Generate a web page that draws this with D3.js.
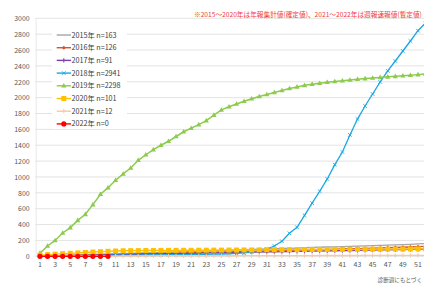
<!DOCTYPE html>
<html>
<head>
<meta charset="utf-8">
<script src="https://cdn.jsdelivr.net/npm/d3@7"></script>
<style>
  body { margin: 0; background: #fff; }
  svg { display: block; }
  text { font-family: "Noto Sans CJK JP", "Noto Sans", sans-serif; }
</style>
</head>
<body>
<div id="chart"></div>
<script>
var WEEKS = d3.range(1, 53);
var XTICKS = d3.range(1, 53, 2);
var YTICKS = d3.range(0, 3001, 200);

var S2015 = [2,5,8,12,15,17,21,24,26,30,33,35,38,42,45,47,50,54,57,59,62,66,69,71,74,78,81,83,86,90,93,96,99,101,104,108,111,114,117,120,123,126,129,132,135,138,141,145,148,151,156,161];
var S2016 = [1,3,5,8,10,12,14,16,19,21,23,25,27,30,32,34,36,38,41,43,45,48,50,52,54,57,59,61,64,66,68,71,73,75,78,80,82,85,87,90,92,95,97,100,103,105,108,111,114,117,121,125];
var S2017 = [1,2,4,6,8,10,12,14,16,18,20,22,24,26,28,30,32,33,35,37,38,40,42,43,45,47,48,50,52,53,55,57,58,60,62,63,65,67,68,70,72,73,75,77,79,80,82,84,86,88,89,91];
var S2018 = [2,3,4,5,6,8,9,10,11,12,13,14,15,16,17,18,19,20,21,22,23,24,25,27,29,32,36,42,52,68,92,130,190,290,366,517,670,820,975,1155,1315,1530,1730,1895,2046,2198,2337,2462,2588,2714,2844,2941];
var S2019 = [40,130,200,294,361,453,529,651,782,865,958,1038,1113,1210,1280,1345,1400,1450,1510,1570,1615,1660,1710,1780,1845,1885,1920,1955,1985,2015,2040,2065,2090,2115,2135,2155,2170,2182,2193,2203,2213,2222,2231,2240,2248,2255,2262,2268,2275,2282,2290,2298];
var S2020 = [15,22,28,33,38,43,48,54,58,63,67,70,71,72,73,74,74,75,75,76,76,77,77,78,78,79,79,80,80,81,82,82,83,84,84,85,85,86,86,87,87,88,88,89,89,90,90,91,91,92,93,95];
var S2021 = [0,1,1,1,2,2,2,3,3,3,3,4,4,4,4,5,5,5,5,6,6,6,6,7,7,7,7,8,8,8,8,8,9,9,9,9,9,10,10,10,10,10,10,11,11,11,11,11,12,12,12,12];
var S2022 = [0,0,0,0,0,0,0,0,0,0];

var SERIES_NAMES = ['2015年 n=163', '2016年 n=126', '2017年 n=91', '2018年 n=2941', '2019年 n=2298', '2020年 n=101', '2021年 n=12', '2022年 n=0'];
var SERIES_VALUES = [S2015, S2016, S2017, S2018, S2019, S2020, S2021, S2022];
var SERIES_COLORS = ['#a5a5a5', '#d8532b', '#7a3fb0', '#1aa7e4', '#8ccb4c', '#ffc000', '#f9c9a6', '#ff0000'];
var SERIES_MARKERS = ['none', 'diamond', 'plus', 'cross', 'triangle', 'square', 'plus', 'circle'];

var NOTE = '※2015～2020年は年報集計値(確定値)、2021～2022年は週報速報値(暫定値)';
var FOOT = '診断週にもとづく';

var SVGWIDTH = 424;
var SVGHEIGHT = 284;
var PLOT = {'left': 36.2, 'top': 18.3, 'bottom': 256.3};
var WEEKSTEP = 7.56;

var svg = d3.select('#chart').append('svg')
  .attr('width', SVGWIDTH)
  .attr('height', SVGHEIGHT);

var x = d3.scaleBand()
  .domain(WEEKS)
  .range([PLOT['left'], PLOT['left'] + WEEKS.length * WEEKSTEP])
  .paddingInner(0).paddingOuter(0);
var y = d3.scaleLinear().domain([0, 3000]).range([PLOT['bottom'], PLOT['top']]);

function cx(w) { return x(w) + x.bandwidth() / 2; }

function drawMarker(g, sType, sColor, fX, fY)
{
  if (sType === 'circle') {
    g.append('circle').attr('cx', fX).attr('cy', fY).attr('r', 2.6).attr('fill', sColor);
  } else if (sType === 'square') {
    g.append('rect').attr('x', fX - 2.5).attr('y', fY - 2.5).attr('width', 5).attr('height', 5).attr('fill', sColor);
  } else if (sType === 'triangle') {
    g.append('path').attr('d', 'M' + fX + ',' + (fY - 2.8) + 'L' + (fX + 2.6) + ',' + (fY + 1.8) + 'L' + (fX - 2.6) + ',' + (fY + 1.8) + 'Z').attr('fill', sColor);
  } else if (sType === 'diamond') {
    g.append('path').attr('d', 'M' + fX + ',' + (fY - 2) + 'L' + (fX + 2) + ',' + fY + 'L' + fX + ',' + (fY + 2) + 'L' + (fX - 2) + ',' + fY + 'Z').attr('fill', sColor);
  } else if (sType === 'plus') {
    g.append('path').attr('d', 'M' + (fX - 2.2) + ',' + fY + 'H' + (fX + 2.2) + 'M' + fX + ',' + (fY - 2.2) + 'V' + (fY + 2.2))
      .attr('stroke', sColor).attr('stroke-width', 1).attr('fill', 'none');
  } else if (sType === 'cross') {
    g.append('path').attr('d', 'M' + (fX - 1.8) + ',' + (fY - 1.8) + 'L' + (fX + 1.8) + ',' + (fY + 1.8) + 'M' + (fX + 1.8) + ',' + (fY - 1.8) + 'L' + (fX - 1.8) + ',' + (fY + 1.8))
      .attr('stroke', sColor).attr('stroke-width', 0.9).attr('fill', 'none');
  }
}

function drawGrid()
{
  var g = svg.append('g').classed('grid', true);
  g.selectAll('line').data(YTICKS).enter().append('line')
    .attr('x1', PLOT['left'] - 1).attr('x2', SVGWIDTH)
    .attr('y1', function(d) { return y(d); })
    .attr('y2', function(d) { return y(d); })
    .attr('stroke', '#dcdcdc').attr('stroke-width', 0.8);
  g.append('line')
    .attr('x1', PLOT['left']).attr('x2', PLOT['left'])
    .attr('y1', PLOT['top']).attr('y2', PLOT['bottom'])
    .attr('stroke', '#e4e4e4').attr('stroke-width', 0.8);
}

function drawAxes()
{
  var yAxis = d3.axisLeft(y).tickValues(YTICKS).tickFormat(d3.format('d')).tickSize(0).tickPadding(0);
  var gy = svg.append('g').attr('transform', 'translate(' + (PLOT['left'] - 6.5) + ',0)').call(yAxis);
  gy.select('.domain').remove();
  gy.selectAll('text').attr('fill', '#595959').style('font-size', '7px');

  var xAxis = d3.axisBottom(x).tickValues(XTICKS).tickSize(0).tickPadding(0);
  var gx = svg.append('g').attr('transform', 'translate(0,' + (PLOT['bottom'] + 6) + ')').call(xAxis);
  gx.select('.domain').remove();
  gx.selectAll('text').attr('fill', '#595959').style('font-size', '7px');
}

function drawSeries()
{
  var gAll = svg.append('g').classed('series', true);
  for (var i = 0; i < SERIES_VALUES.length; i++)
  {
    var aVals = SERIES_VALUES[i];
    var sColor = SERIES_COLORS[i];
    var g = gAll.append('g');
    var line = d3.line()
      .x(function(d, j) { return cx(WEEKS[j]); })
      .y(function(d) { return y(d); });
    g.append('path').datum(aVals)
      .attr('d', line)
      .attr('fill', 'none')
      .attr('stroke', sColor)
      .attr('stroke-width', (i === 4) ? 1.5 : 1.3);
    for (var j = 0; j < aVals.length; j++)
    {
      drawMarker(g, SERIES_MARKERS[i], sColor, cx(WEEKS[j]), y(aVals[j]));
    }
  }
}

function drawLegend()
{
  var g = svg.append('g').classed('legend', true);
  var iTop = 35;
  var fStep = 12.7;
  g.append('rect').attr('x', 52).attr('y', 27).attr('width', 75).attr('height', 102).attr('fill', '#fff');
  for (var i = 0; i < SERIES_NAMES.length; i++)
  {
    var fY = iTop + i * fStep;
    g.append('line').attr('x1', 56.7).attr('x2', 71).attr('y1', fY).attr('y2', fY)
      .attr('stroke', SERIES_COLORS[i]).attr('stroke-width', 1.4);
    drawMarker(g, SERIES_MARKERS[i], SERIES_COLORS[i], 63.8, fY);
    g.append('text').attr('x', 71.5).attr('y', fY + 2.5)
      .attr('fill', '#404040').style('font-size', '7.2px')
      .text(SERIES_NAMES[i]);
  }
}

function drawNotes()
{
  var tNote = svg.append('text').attr('x', 194).attr('y', 16.8)
    .attr('fill', '#f23a3a').style('font-size', '6.8px')
    .text(NOTE);
  //shrink so it stays inside the picture
  var fLen = tNote.node().getComputedTextLength();
  if (194 + fLen > SVGWIDTH - 2) {
    tNote.style('font-size', (6.8 * (SVGWIDTH - 2 - 194) / fLen) + 'px');
  }
  svg.append('text').attr('x', SVGWIDTH - 2).attr('y', 281.5)
    .attr('text-anchor', 'end')
    .attr('fill', '#595959').style('font-size', '5.6px')
    .text(FOOT);
}

function main()
{
  drawGrid();
  drawAxes();
  drawSeries();
  drawLegend();
  drawNotes();
}

main();
</script>
</body>
</html>
